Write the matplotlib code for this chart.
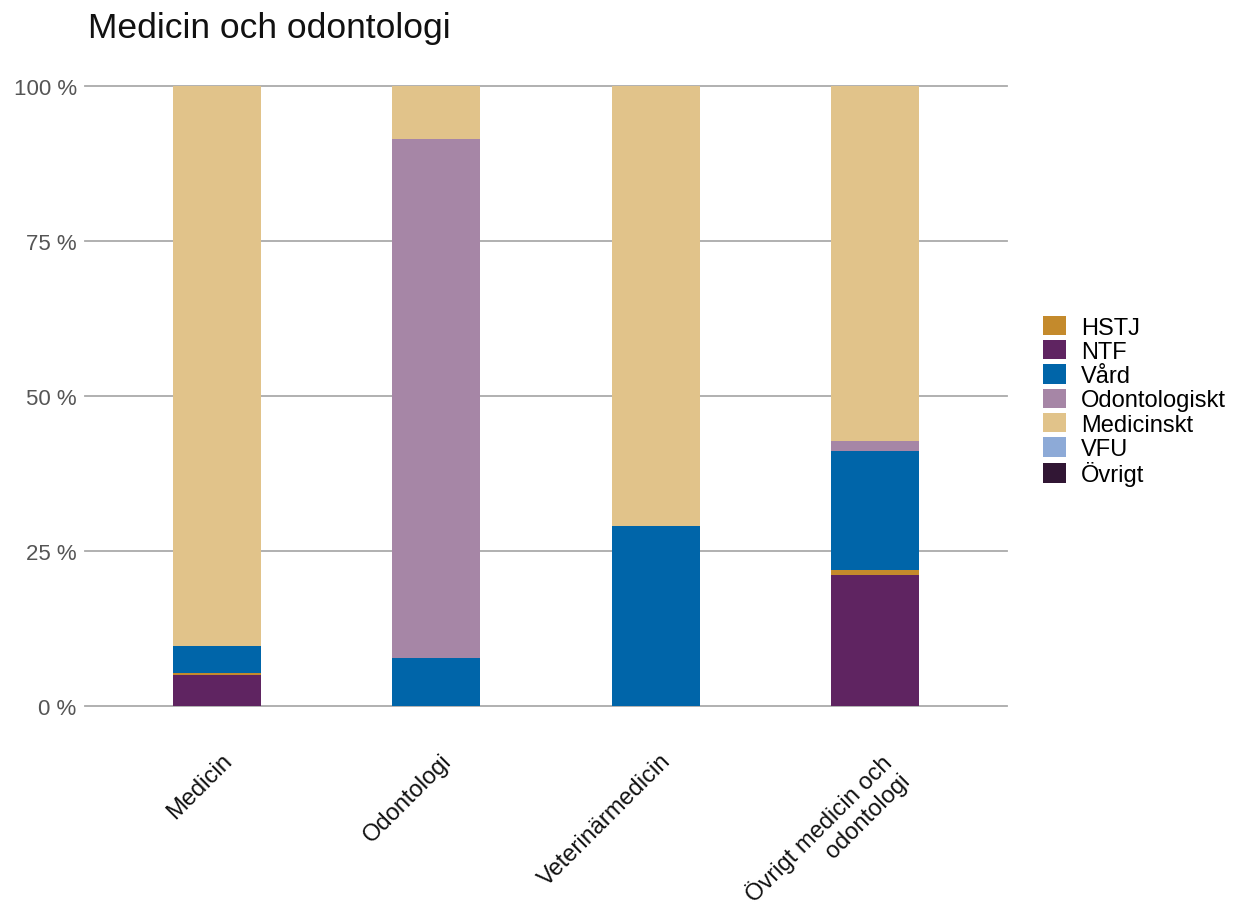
import matplotlib.pyplot as plt
from matplotlib.patches import Patch
from matplotlib.transforms import ScaledTranslation
import numpy as np

plt.rcParams["font.family"] = ["Liberation Sans", "DejaVu Sans"]

# Share of each category per subject area (percent), stacked bottom-up
areas = ["Medicin", "Odontologi", "Veterinärmedicin", "Övrigt medicin och\nodontologi"]
ntf = [5.0, 0.0, 0.0, 21.1]
hstj = [0.3, 0.0, 0.0, 0.8]
vard = [4.3, 7.7, 29.0, 19.2]
odontologiskt = [0.0, 83.8, 0.0, 1.6]
medicinskt = [90.4, 8.5, 71.0, 57.3]
vfu = [0.0, 0.0, 0.0, 0.0]
ovrigt = [0.0, 0.0, 0.0, 0.0]

colors = {
    "HSTJ": "#C48A2C",
    "NTF": "#5F2461",
    "Vård": "#0065A9",
    "Odontologiskt": "#A686A6",
    "Medicinskt": "#E1C38A",
    "VFU": "#8DAAD7",
    "Övrigt": "#311634",
}
stack = [
    ("Övrigt", ovrigt),
    ("NTF", ntf),
    ("HSTJ", hstj),
    ("Vård", vard),
    ("Odontologiskt", odontologiskt),
    ("VFU", vfu),
    ("Medicinskt", medicinskt),
]
legend_order = ["HSTJ", "NTF", "Vård", "Odontologiskt", "Medicinskt", "VFU", "Övrigt"]

fig = plt.figure(figsize=(12.39, 9.03), dpi=100)
ax = fig.add_axes([85 / 1239, 196 / 903, 922 / 1239, 620 / 903])

x = np.arange(len(areas))
bottom = np.zeros(len(areas))
for name, vals in stack:
    vals = np.array(vals)
    ax.bar(x, vals, bottom=bottom, width=0.4, color=colors[name], linewidth=0, zorder=3)
    bottom += vals

ax.set_xlim(-0.6, 3.6)
ax.set_ylim(0, 100)
ax.set_yticks([0, 25, 50, 75, 100])
ax.set_yticklabels(["0 %", "25 %", "50 %", "75 %", "100 %"], fontsize=16, color="#555555")
ax.yaxis.grid(True, color="#aaaaaa", linewidth=1.3, zorder=0)
for gl in ax.yaxis.get_gridlines():
    gl.set_clip_on(False)
ax.tick_params(axis="y", length=0, pad=6)
ax.tick_params(axis="x", length=0, pad=31)
ax.set_xticks(x)
ax.set_xticklabels(areas, rotation=45, ha="right", rotation_mode="anchor",
                   fontsize=17, color="#111111", multialignment="right")
# nudge the slanted labels a little to the right
shift = ScaledTranslation(4 / 100, 0, fig.dpi_scale_trans)
for lbl in ax.get_xticklabels():
    lbl.set_transform(lbl.get_transform() + shift)
for s in ax.spines.values():
    s.set_visible(False)

fig.text(88 / 1239, 1 - 38 / 903, "Medicin och odontologi", fontsize=25.5,
         va="baseline", ha="left", color="#111111")

handles = [Patch(facecolor=colors[n], edgecolor="none") for n in legend_order]
fig.legend(handles, legend_order, loc="center left",
           bbox_to_anchor=(1043 / 1239, 1 - 402 / 903), frameon=False,
           fontsize=17, handlelength=0.97, handleheight=0.89,
           handletextpad=0.65, labelspacing=0.06, borderaxespad=0, borderpad=0)

fig.savefig("out.png", dpi=100)
